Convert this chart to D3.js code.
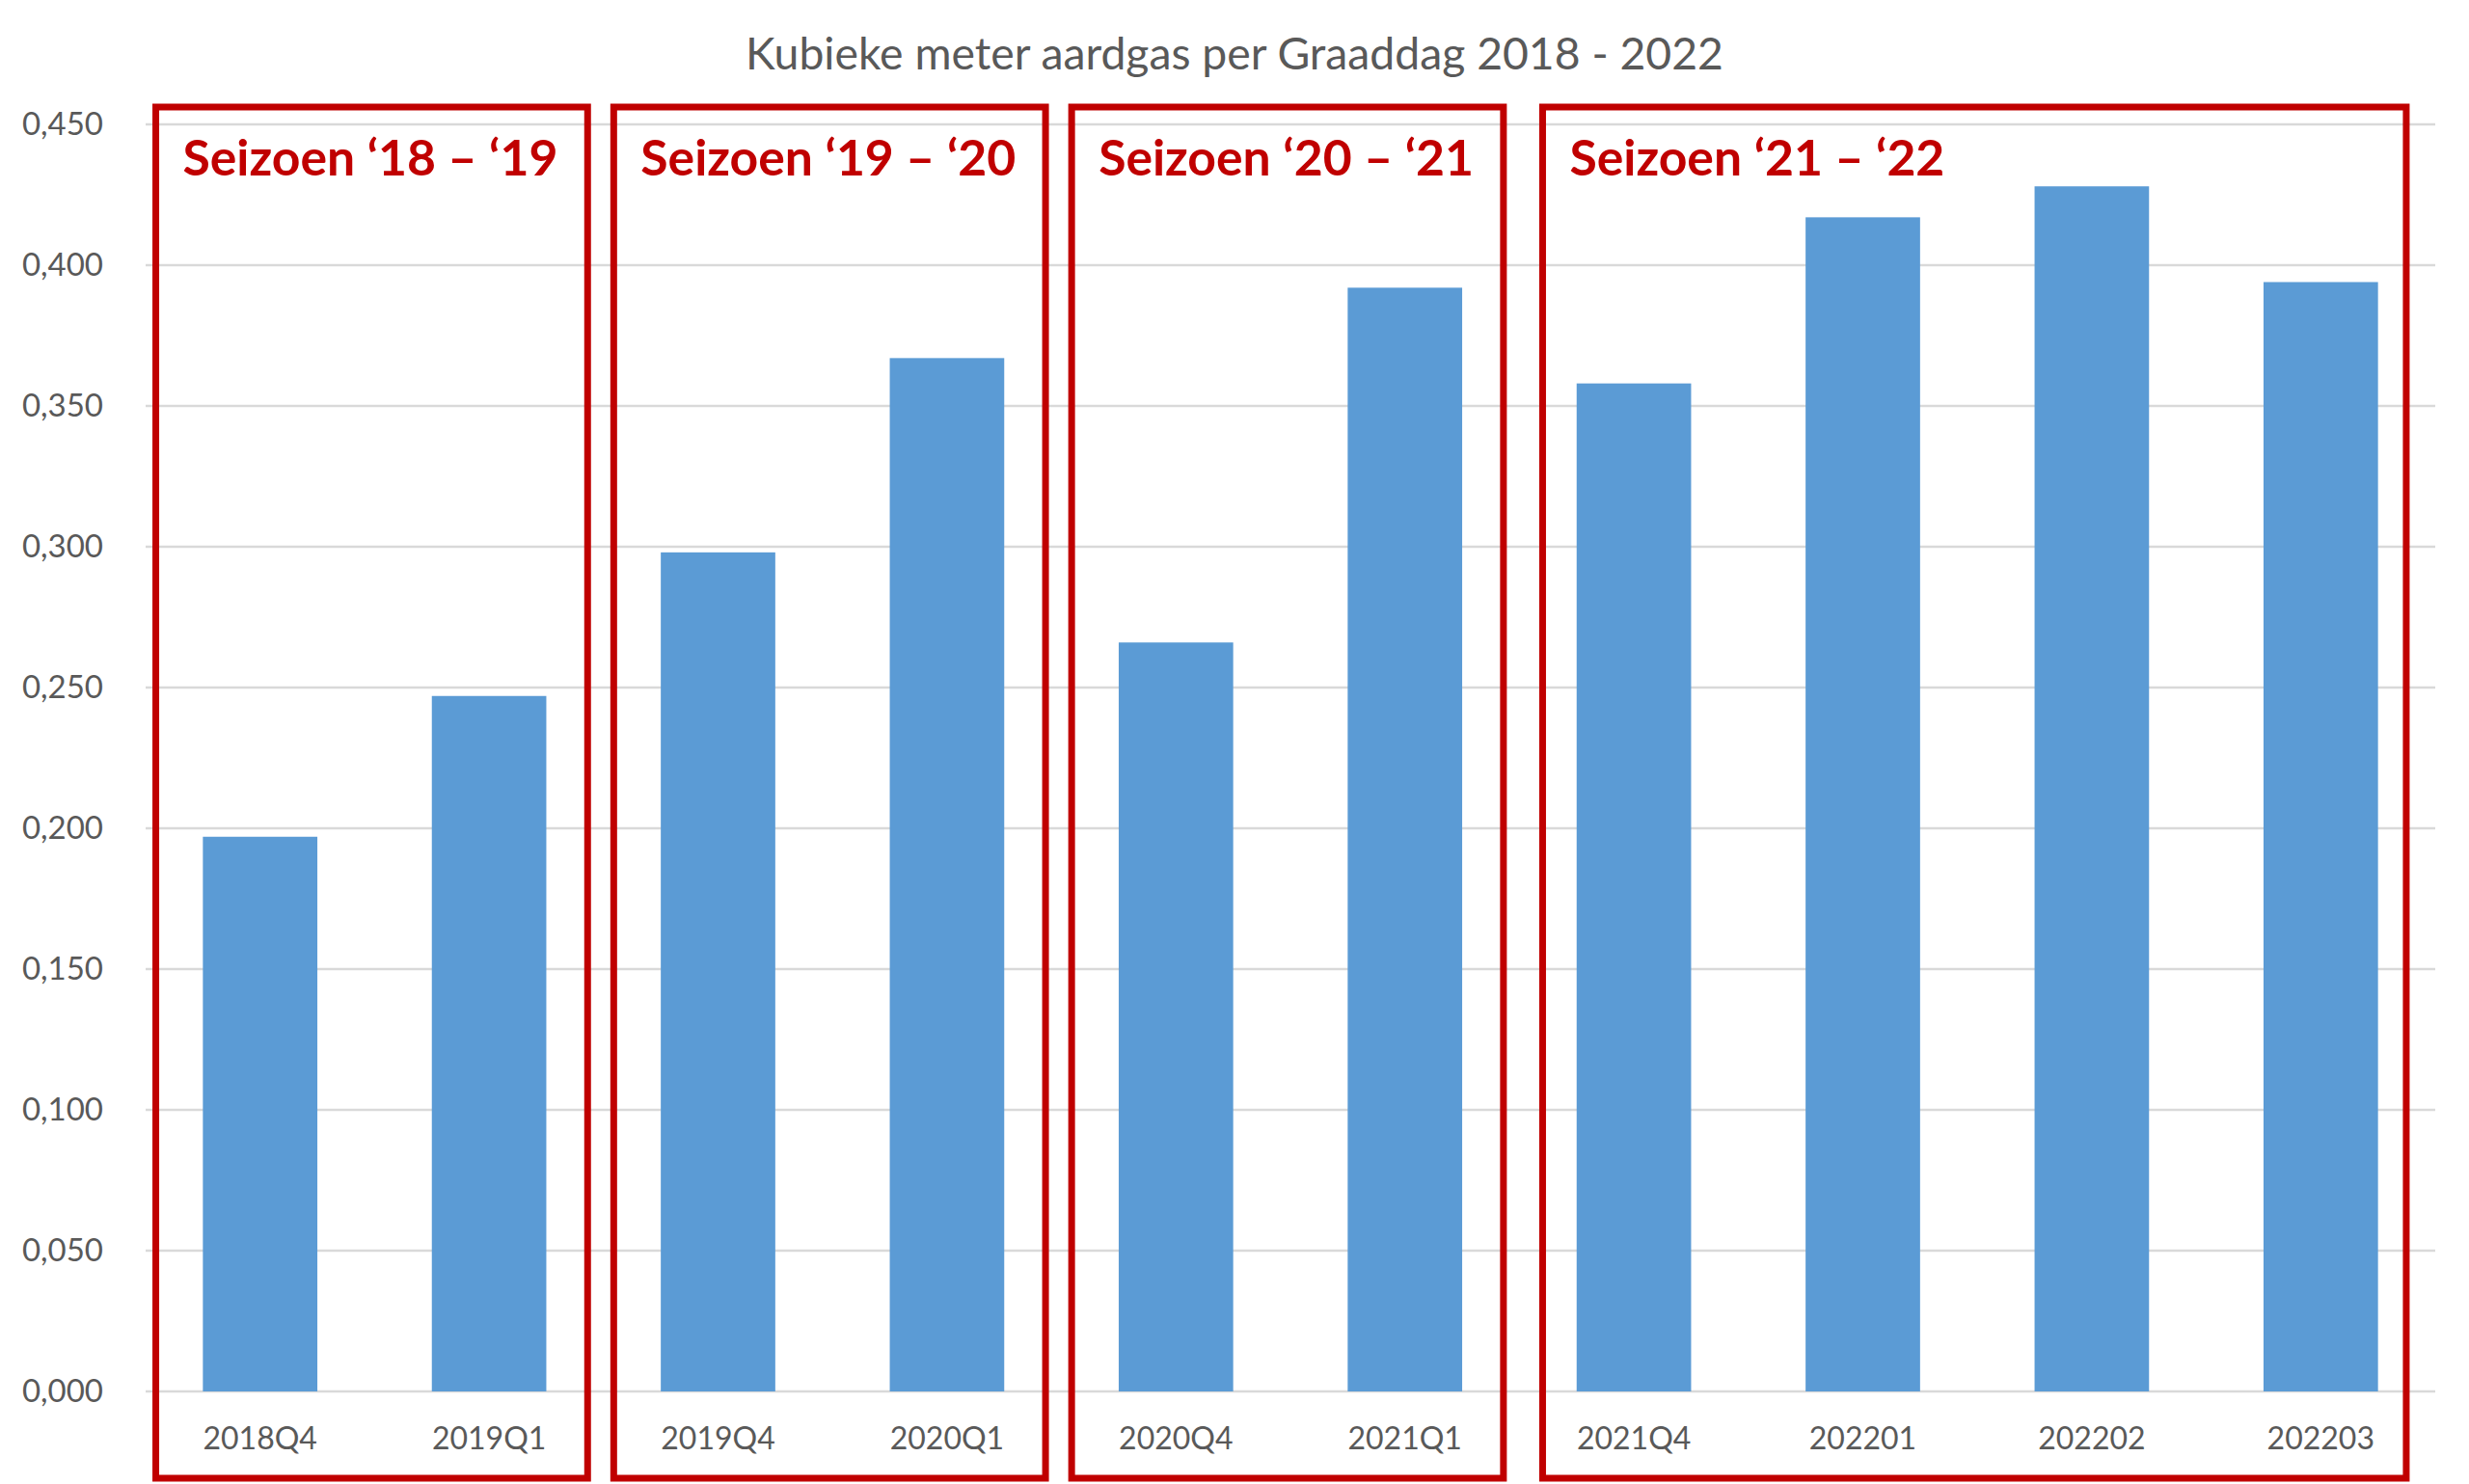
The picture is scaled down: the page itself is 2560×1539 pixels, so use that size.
<!DOCTYPE html>
<html>
<head>
<meta charset="utf-8">
<script src="https://cdn.jsdelivr.net/npm/d3@7"></script>
<style>
  html, body { margin: 0; padding: 0; background: #ffffff; }
  svg { display: block; }
</style>
</head>
<body>
<svg id="chart" width="2560" height="1539"></svg>
<script>
// ---- data ----
const title = "Kubieke meter aardgas per Graaddag 2018 - 2022";
const categories = ["2018Q4", "2019Q1", "2019Q4", "2020Q1", "2020Q4", "2021Q1", "2021Q4", "202201", "202202", "202203"];
const values = [0.197, 0.247, 0.298, 0.367, 0.266, 0.392, 0.358, 0.417, 0.428, 0.394];
const yTicks = [0, 0.05, 0.10, 0.15, 0.20, 0.25, 0.30, 0.35, 0.40, 0.45];
const seasonLabels = ["Seizoen \u201818 \u2013 \u201819", "Seizoen \u201819 \u2013 \u201820", "Seizoen \u201820 \u2013 \u201821", "Seizoen \u201821 \u2013 \u201822"];
const seasonStart = ["2018Q4", "2019Q4", "2020Q4", "2021Q4"];
const seasonEnd = ["2019Q1", "2020Q1", "2021Q1", "202203"];

// ---- layout ----
const W = 2560, H = 1539;
const plot = { left: 151, right: 2525, top: 129, bottom: 1443 };
const grey = "#595959", red = "#C00000", blue = "#5B9BD5", grid = "#D9D9D9";
const font = "Lato, 'Open Sans', sans-serif";

const svg = d3.select("#chart");
svg.append("rect").attr("width", W).attr("height", H).attr("fill", "#fff");

const x = d3.scaleBand().domain(categories).range([plot.left, plot.right])
  .paddingInner(0.5).paddingOuter(0.25);
const y = d3.scaleLinear().domain([0, 0.45]).range([plot.bottom, plot.top]);

const nl = d3.formatLocale({ decimal: ",", thousands: ".", grouping: [3], currency: ["€", ""] });
const fmt = nl.format(".3f");

// gridlines
svg.append("g").selectAll("line").data(yTicks).join("line")
  .attr("x1", plot.left).attr("x2", plot.right)
  .attr("y1", d => y(d)).attr("y2", d => y(d))
  .attr("stroke", grid).attr("stroke-width", 2.5);

// y axis labels
const yAxis = svg.append("g").attr("transform", `translate(${plot.left},0)`)
  .call(d3.axisLeft(y).tickValues(yTicks).tickFormat(fmt).tickSize(0).tickPadding(44));
yAxis.select(".domain").remove();
yAxis.selectAll("text").attr("fill", grey).attr("font-family", font).attr("font-size", 33);

// bars
svg.append("g").selectAll("rect").data(categories).join("rect")
  .attr("x", d => x(d)).attr("width", x.bandwidth())
  .attr("y", (d, i) => y(values[i]))
  .attr("height", (d, i) => y(0) - y(values[i]))
  .attr("fill", blue);

// x axis labels
const xAxis = svg.append("g").attr("transform", `translate(0,${plot.bottom})`)
  .call(d3.axisBottom(x).tickSize(0));
xAxis.select(".domain").remove();
xAxis.selectAll("text").attr("y", 60).attr("dy", 0)
  .attr("fill", grey).attr("font-family", font).attr("font-size", 32);

// title
const t = svg.append("text").text(title)
  .attr("x", W / 2).attr("y", 72).attr("text-anchor", "middle")
  .attr("fill", grey).attr("font-family", font).attr("font-size", 40);
const tw = t.node().getComputedTextLength();
t.attr("font-size", 40 * 1014 / tw);

// season boxes
const step = x.step();
const bandStart = c => x(c) - (step - x.bandwidth()) / 2;
const boxTop = plot.top - 18, boxBottom = plot.bottom + 90;
const seasons = seasonLabels.map((lab, i) => {
  const s = bandStart(seasonStart[i]);
  const e = bandStart(seasonEnd[i]) + step;
  const c = (s + e) / 2 - 3, w = (e - s) * 0.943;
  return { lab, x0: c - w / 2, x1: c + w / 2 };
});
const sg = svg.append("g");
sg.selectAll("rect").data(seasons).join("rect")
  .attr("x", d => d.x0).attr("y", boxTop)
  .attr("width", d => d.x1 - d.x0).attr("height", boxBottom - boxTop)
  .attr("fill", "none").attr("stroke", red).attr("stroke-width", 7);
const labs = sg.selectAll("text").data(seasons).join("text")
  .text(d => d.lab)
  .attr("x", d => d.x0 + 28).attr("y", 182)
  .attr("fill", red).attr("font-family", font).attr("font-weight", "bold")
  .attr("font-size", 50);
const lw = labs.nodes()[0].getComputedTextLength();
labs.attr("font-size", 50 * 389 / lw);
</script>
</body>
</html>
